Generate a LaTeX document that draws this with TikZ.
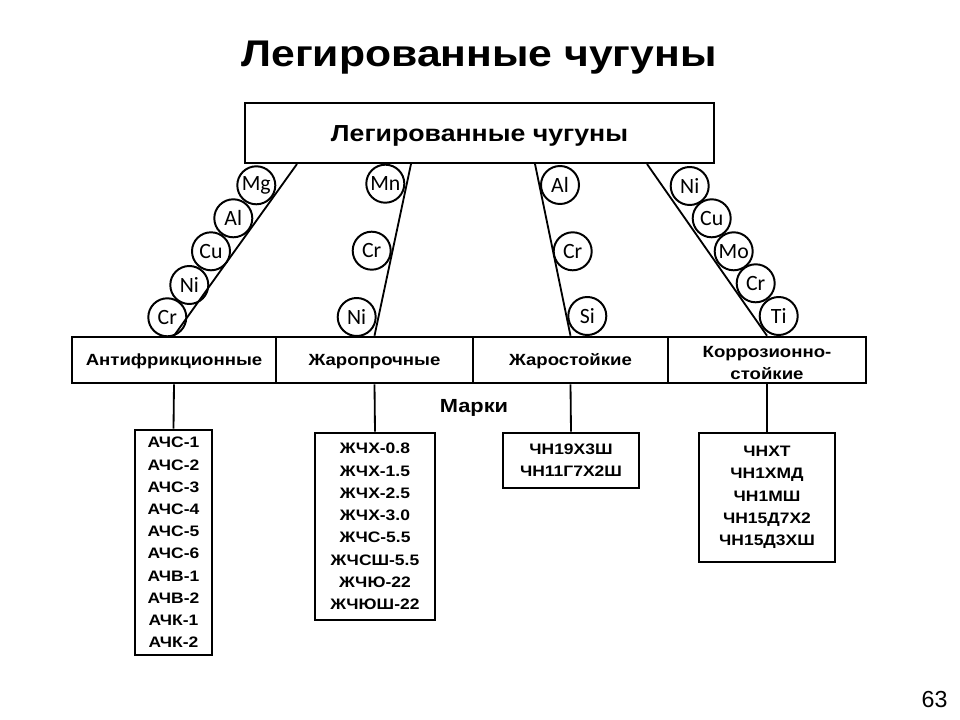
\documentclass[tikz,border=0pt]{standalone}
\usepackage{fontspec}
\setmainfont{Liberation Sans}[FakeStretch=1.15]
\newfontfamily\plainfont{Liberation Sans}
\newfontfamily\elemfont{Carlito}
\usepackage{tikz}

\begin{document}
\begin{tikzpicture}[
  x=0.025cm,y=-0.025cm,
  cell/.style={draw,line width=1.8pt,minimum height=1.15cm,inner sep=0pt,
    font=\bfseries\fontsize{11.5}{15.6}\selectfont},
  elem/.style={circle,draw,line width=1.4pt,minimum size=0.95cm,inner sep=0pt,
    font=\elemfont\fontsize{15.5}{15.5}\selectfont},
  marks/.style={draw,line width=1.8pt,align=center,inner sep=0pt,
    font=\bfseries\fontsize{10.8}{15.8}\selectfont},
  link/.style={line width=1.3pt}
]
\useasboundingbox (0,0) rectangle (960,720);

\node[anchor=base,font=\bfseries\fontsize{26.4}{30}\selectfont] (title) at (479,67) {Легированные чугуны};
\node[draw,line width=1.8pt,minimum width=11.725cm,minimum height=1.5cm,text height=11.8pt,text depth=0pt,
  font=\bfseries\fontsize{16.5}{20}\selectfont] (main) at (479.5,133) {Легированные чугуны};

% группы
\node[cell,minimum width=5.1cm,text height=8.2pt,text depth=0pt] (anti) at (174,360) {Антифрикционные};
\node[cell,minimum width=4.925cm,text height=8.2pt,text depth=0pt] (creep) at (374.5,360) {Жаропрочные};
\node[cell,minimum width=4.875cm,text height=8.2pt,text depth=0pt] (heat) at (570.5,360) {Жаростойкие};
\node[cell,minimum width=4.95cm,align=center,text height=28.2pt,text depth=0pt] (corr) at (767,360) {Коррозионно-\\стойкие};

\coordinate (t1) at (297,164);
\coordinate (t2) at (411,164);
\coordinate (t3) at (535,164);
\coordinate (t4) at (647,164);
\draw[link] (t1) -- (anti.north);
\draw[link] (t2) -- (creep.north);
\draw[link] (t3) -- (heat.north);
\draw[link] (t4) -- (corr.north);

% легирующие элементы
\node[elem] (mg) at (256.3,185.3) {Mg};
\node[elem] (al1) at (233.3,218.3) {Al};
\node[elem] (cu1) at (211,251.3) {Cu};
\node[elem] (ni1) at (189.3,285) {Ni};
\node[elem] (cr1) at (167.3,317.3) {Cr};

\node[elem] (mn) at (385.3,183.7) {Mn};
\node[elem] (cr2) at (371.7,250.7) {Cr};
\node[elem] (ni2) at (356.7,317) {Ni};

\node[elem] (al3) at (560,185) {Al};
\node[elem] (cr3) at (572.7,251.3) {Cr};
\node[elem] (si) at (587.3,316) {Si};

\node[elem] (ni4) at (689.7,186) {Ni};
\node[elem] (cu4) at (711.7,218.3) {Cu};
\node[elem] (mo) at (733.7,251.3) {Mo};
\node[elem] (cr4) at (755.7,283.3) {Cr};
\node[elem] (ti) at (778.7,316) {Ti};

\node[anchor=base,font=\bfseries\fontsize{13.5}{16}\selectfont] (brand) at (474,413) {Марки};

% марки
\node[marks,minimum width=1.925cm,minimum height=5.625cm] (m1) at (173.5,542.5)
  {АЧС-1\\АЧС-2\\АЧС-3\\АЧС-4\\АЧС-5\\АЧС-6\\АЧВ-1\\АЧВ-2\\АЧК-1\\АЧК-2};
\node[marks,minimum width=3cm,minimum height=4.675cm] (m2) at (375,526.5)
  {ЖЧХ-0.8\\ЖЧХ-1.5\\ЖЧХ-2.5\\ЖЧХ-3.0\\ЖЧС-5.5\\ЖЧСШ-5.5\\ЖЧЮ-22\\ЖЧЮШ-22};
\node[marks,minimum width=3.4cm,minimum height=1.375cm] (m3) at (571,460.5)
  {ЧН19Х3Ш\\ЧН11Г7Х2Ш};
\node[marks,minimum width=3.4cm,minimum height=3.225cm] (m4) at (767,497.5)
  {ЧНХТ\\ЧН1ХМД\\ЧН1МШ\\ЧН15Д7Х2\\ЧН15Д3ХШ};

\draw[link] (anti.south) -- (m1.north);
\draw[link] (creep.south) -- (m2.north);
\draw[link] (heat.south) -- (m3.north);
\draw[link] (corr.south) -- (m4.north);

\node[anchor=base,font=\plainfont\fontsize{16.5}{18}\selectfont] (page) at (934.5,707) {63};
\end{tikzpicture}
\end{document}
